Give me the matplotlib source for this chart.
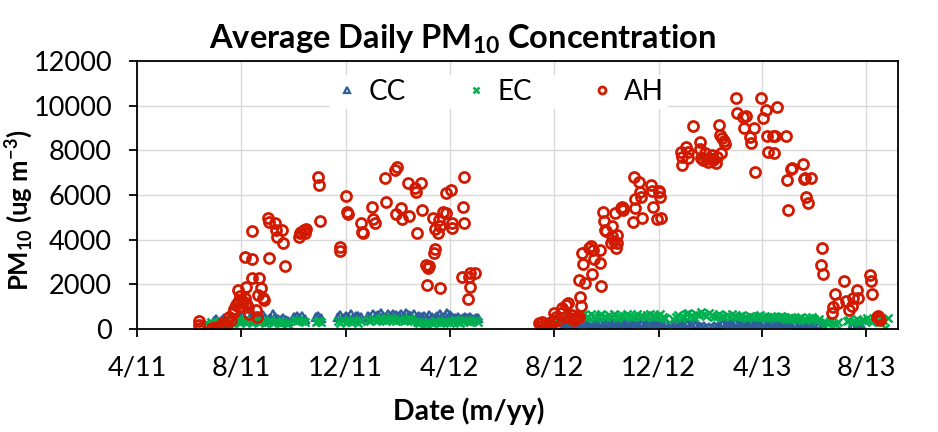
import matplotlib
matplotlib.use("Agg")
import matplotlib.pyplot as plt
import matplotlib.dates as mdates
import pandas as pd

# ---------------------------------------------------------------
# Data
# ---------------------------------------------------------------
SERIES_STEP = "3D"   # CC / EC values are listed every 3 days inside each segment

# CC (blue triangles): (segment start, values)
cc_segments = [
    ("2011-06-30", [350, 450, 300, 400, 500, 380, 420, 550, 450, 400, 480, 600, 420, 380, 500,
                    560, 450, 400, 520, 620, 480, 420, 500, 650, 520, 450, 400, 480, 420, 380]),
    ("2011-10-02", [550, 600, 500, 580, 450]),
    ("2011-10-27", [520, 600, 480]),
    ("2011-11-22", [550, 620, 480, 600, 520, 650, 500, 580, 600, 520]),
    ("2011-12-27", [600, 550, 650, 580, 620, 700, 600, 550, 650, 600, 680, 620, 580, 650, 600,
                    700, 620, 580, 650, 550, 600, 520, 580, 500, 620, 550, 480, 600, 650, 550,
                    600, 700, 620, 550, 480, 520, 450, 500, 550, 480, 520, 450, 500, 480]),
    ("2012-08-08", [200, 300, 250, 350, 280, 220, 320, 260, 300, 350, 250, 280, 320, 240, 300,
                    360, 280, 250, 300, 330, 270, 220, 300, 280, 350, 260, 300, 240, 280, 320,
                    250, 300, 270, 230, 290, 320, 260, 300, 250, 280, 220, 300]),
    ("2012-12-18", [250, 300, 220, 280, 240, 300, 260, 220, 280, 200,
                    120, 80, 150, 60, 100, 50, 120, 80, 150,
                    250, 300, 280, 320, 260, 300, 350, 280, 320, 300, 260, 340, 300, 280, 320,
                    260, 300, 350, 280, 250, 300, 270, 320, 280, 250, 300, 260, 230, 280, 250,
                    200, 260, 220, 180, 240, 200, 150, 220, 180, 120, 100]),
    ("2013-07-15", [150, 200, 120, 180, 100]),
]

# EC (green crosses)
ec_segments = [
    ("2011-06-21", [250, 180, 300, 220, 150, 280, 350, 240, 300, 380, 260, 330, 400, 290, 350,
                    420, 310, 380, 250, 340, 410, 300, 360, 280, 330, 390, 270, 340, 300, 250,
                    320, 280, 230]),
    ("2011-10-02", [400, 350, 420, 380, 330]),
    ("2011-10-27", [300, 380, 320]),
    ("2011-11-22", [350, 280, 400, 320, 380, 300, 420, 350, 290, 380]),
    ("2011-12-27", [420, 380, 450, 350, 400, 480, 420, 380, 450, 500, 420, 380, 440, 400, 350,
                    420, 480, 400, 360, 300, 250, 320, 280, 230, 300, 260, 350, 300, 250, 320,
                    380, 300, 250, 350, 400, 320, 280, 350, 420, 380, 300, 350, 400, 330]),
    ("2012-08-05", [350, 450, 500, 420, 550, 480, 600, 520, 450, 580, 620, 500, 550, 650, 580,
                    500, 600, 680, 550, 520, 620, 560, 650, 500, 580, 620, 550, 680, 600, 520,
                    580, 650, 560, 600, 540, 620, 680, 580, 520, 600, 650, 550, 500]),
    ("2012-12-18", [450, 550, 620, 500, 580, 650, 700, 600, 550, 680, 620, 750, 650, 580, 700,
                    620, 550, 600, 680, 580, 520, 620, 560, 650, 600, 540, 580, 620, 550, 500,
                    600, 560, 520, 580, 620, 540, 500, 560, 600, 520, 480, 550, 600, 520, 460,
                    500, 550, 480, 420, 500, 550, 450, 400, 480, 520, 430, 380, 450]),
    ("2013-06-14", [300, 250, 350, 280, 220, 300]),
    ("2013-07-09", [350, 420, 300, 380, 450, 320, 400, 350, 480, 400, 320, 450, 380, 300, 420,
                    50, 500]),
]

# AH (red open circles)
ah_dates = [
    "2011-06-12", "2011-06-13", "2011-06-14", "2011-06-28", "2011-07-01", "2011-07-03",
    "2011-07-05", "2011-07-08", "2011-07-10", "2011-07-11", "2011-07-12", "2011-07-15",
    "2011-07-18", "2011-07-20", "2011-07-22", "2011-07-24", "2011-07-26", "2011-07-28",
    "2011-07-28", "2011-07-29", "2011-07-31", "2011-08-01", "2011-08-03", "2011-08-05",
    "2011-08-05", "2011-08-06", "2011-08-07", "2011-08-09", "2011-08-10", "2011-08-13",
    "2011-08-13", "2011-08-14", "2011-08-18", "2011-08-19", "2011-08-20", "2011-08-22",
    "2011-08-24", "2011-08-26", "2011-08-28", "2011-09-01", "2011-09-02", "2011-09-03",
    "2011-09-09", "2011-09-11", "2011-09-12", "2011-09-18", "2011-09-19", "2011-09-21",
    "2011-10-07", "2011-10-09", "2011-10-10", "2011-10-13", "2011-10-14", "2011-10-16",
    "2011-10-30", "2011-10-31", "2011-11-01", "2011-11-24", "2011-11-25", "2011-12-01",
    "2011-12-03", "2011-12-04", "2011-12-19", "2011-12-20", "2011-12-21", "2012-01-01",
    "2012-01-02", "2012-01-04", "2012-01-16", "2012-01-17", "2012-01-28", "2012-01-29",
    "2012-01-30", "2012-02-04", "2012-02-05", "2012-02-12", "2012-02-13", "2012-02-20",
    "2012-02-21", "2012-02-22", "2012-02-27", "2012-02-28", "2012-03-04", "2012-03-05",
    "2012-03-06", "2012-03-08", "2012-03-12", "2012-03-13", "2012-03-14", "2012-03-15",
    "2012-03-18", "2012-03-19", "2012-03-20", "2012-03-21", "2012-03-24", "2012-03-27",
    "2012-03-28", "2012-04-02", "2012-04-03", "2012-04-04", "2012-04-15", "2012-04-16",
    "2012-04-17", "2012-04-18", "2012-04-22", "2012-04-23", "2012-04-24", "2012-04-25",
    "2012-04-30",
    "2012-07-14", "2012-07-16", "2012-07-18", "2012-07-20", "2012-07-22", "2012-07-24",
    "2012-07-26", "2012-07-28", "2012-07-30", "2012-08-01", "2012-08-03", "2012-08-06",
    "2012-08-09", "2012-08-10", "2012-08-14", "2012-08-15", "2012-08-17", "2012-08-19",
    "2012-08-22", "2012-08-24", "2012-08-27", "2012-08-29", "2012-08-30", "2012-08-30",
    "2012-08-31", "2012-09-01", "2012-09-03", "2012-09-04", "2012-09-06", "2012-09-11",
    "2012-09-13", "2012-09-14", "2012-09-15", "2012-09-17", "2012-09-23", "2012-09-24",
    "2012-09-25", "2012-09-27", "2012-09-28", "2012-09-29", "2012-09-30", "2012-10-06",
    "2012-10-07", "2012-10-08", "2012-10-10", "2012-10-11", "2012-10-12", "2012-10-13",
    "2012-10-14", "2012-10-18", "2012-10-19", "2012-10-20", "2012-10-21", "2012-11-01",
    "2012-11-02", "2012-11-03", "2012-11-04", "2012-11-08", "2012-11-09", "2012-11-11",
    "2012-11-12", "2012-11-22", "2012-11-23", "2012-11-24", "2012-11-29", "2012-12-01",
    "2012-12-02", "2012-12-03", "2012-12-04", "2012-12-27", "2012-12-28", "2012-12-29",
    "2013-01-02", "2013-01-04", "2013-01-05", "2013-01-10", "2013-01-18", "2013-01-19",
    "2013-01-20", "2013-01-22", "2013-01-24", "2013-01-26", "2013-01-28", "2013-01-29",
    "2013-02-01", "2013-02-02", "2013-02-03", "2013-02-06", "2013-02-07", "2013-02-10",
    "2013-02-11", "2013-02-12", "2013-02-13", "2013-02-16", "2013-02-17", "2013-03-02",
    "2013-03-03", "2013-03-10", "2013-03-11", "2013-03-13", "2013-03-18", "2013-03-19",
    "2013-03-23", "2013-03-24", "2013-03-31", "2013-04-02", "2013-04-06", "2013-04-07",
    "2013-04-08", "2013-04-14", "2013-04-15", "2013-04-16", "2013-04-19", "2013-04-29",
    "2013-04-30", "2013-05-01", "2013-05-05", "2013-05-06", "2013-05-19", "2013-05-20",
    "2013-05-21", "2013-05-23", "2013-05-25", "2013-05-28", "2013-06-09", "2013-06-10",
    "2013-06-11", "2013-06-22", "2013-06-23", "2013-06-25", "2013-06-29", "2013-07-06",
    "2013-07-08", "2013-07-12", "2013-07-15", "2013-07-17", "2013-07-21", "2013-07-22",
    "2013-08-05", "2013-08-07", "2013-08-08", "2013-08-14", "2013-08-15", "2013-08-16",
    "2013-08-17",
]
ah_vals = [
    350, 200, 60, 60, 20, 90,
    30, 120, 50, 260, 150, 200,
    550, 400, 700, 900, 1080, 1220,
    1750, 1000, 1500, 1300, 1200, 1375,
    3240, 1900, 1150, 1000, 650, 2270,
    3120, 4400, 850, 550, 1520, 2270,
    1820, 1375, 1300, 4955, 4805, 3165,
    4760, 4430, 4105, 4430, 3865, 2820,
    4105, 4285, 4350, 4430, 4300, 4465,
    6820, 6450, 4850, 3690, 3510, 5970,
    5250, 5150, 4760, 4360, 4290, 5450,
    4930, 4760, 6780, 5700, 7120, 5130,
    7240, 5430, 4930, 6520, 5070, 6300,
    6150, 4290, 6520, 5330, 2865, 1970,
    2745, 2820, 4955, 3420, 4460, 3570,
    4285, 4880, 4610, 1850, 5250, 5180,
    6075, 6225, 4760, 4510, 2315, 5450,
    6790, 4730, 1330, 2315, 1895, 2520,
    2520,
    250, 150, 300, 100, 200, 120,
    280, 180, 350, 700, 550, 400,
    700, 925, 550, 1075, 1150, 480,
    630, 400, 480, 600, 2190, 520,
    1450, 1030, 3390, 2900, 2070, 3610,
    3717, 2450, 3540, 3120, 3540, 2970,
    1940, 5250, 4840, 4430, 4390, 3840,
    4610, 4165, 3955, 5180, 3610, 4210,
    3840, 5400, 5450, 5350, 5420, 4800,
    6820, 5430, 5820, 6570, 6150, 5900,
    4955, 6450, 6195, 5480, 4910, 6195,
    6150, 5925, 4960, 7940, 7715, 7340,
    8165, 7940, 7670, 9100, 8390, 8060,
    7640, 7550, 7865, 7610, 7500, 7640,
    7600, 7790, 7570, 7420, 7715, 9135,
    8690, 7865, 8570, 8420, 8270, 10330,
    9660, 9510, 8990, 9550, 8610, 8315,
    8990, 7015, 10330, 9435, 9810, 8660,
    7940, 8660, 7865, 8660, 9925, 8660,
    6670, 5330, 7165, 7200, 7375, 6715,
    6750, 5920, 5630, 6775, 2865, 3640,
    2450, 730, 970, 1570, 1180, 2165,
    1270, 850, 1030, 1375, 1745, 1375,
    2420, 2165, 1570, 550, 600, 480,
    420,
]

y_ticks = [0, 2000, 4000, 6000, 8000, 10000, 12000]
x_range = ("2011-04-01", "2013-09-07")

COLORS = {"CC": "#2E5E9A", "EC": "#00B050", "AH": "#D21A00"}

# ---------------------------------------------------------------
# Style
# ---------------------------------------------------------------
plt.rcParams.update({
    "font.family": ["Lato", "DejaVu Sans"],
    "mathtext.fontset": "custom",
    "mathtext.rm": "Lato",
    "mathtext.bf": "Lato:bold",
    "mathtext.default": "regular",
})


def expand(segments):
    dates, vals = [], []
    for start, values in segments:
        dates.extend(pd.date_range(start, periods=len(values), freq=SERIES_STEP))
        vals.extend(values)
    return dates, vals


cc_d, cc_v = expand(cc_segments)
ec_d, ec_v = expand(ec_segments)
ah_d = pd.to_datetime(ah_dates)

fig = plt.figure(figsize=(9.38, 4.32), dpi=100)
ax = fig.add_axes([0.146, 0.2384, 0.8113, 0.6204])

ax.plot(cc_d, cc_v, linestyle="none", marker="^", markersize=5.5,
        markerfacecolor="none", markeredgecolor=COLORS["CC"], markeredgewidth=1.6, label="CC")
ax.plot(ec_d, ec_v, linestyle="none", marker="x", markersize=5.5,
        color=COLORS["EC"], markeredgewidth=1.8, label="EC")
ax.plot(ah_d, ah_vals, linestyle="none", marker="o", markersize=7.2,
        markerfacecolor="none", markeredgecolor=COLORS["AH"], markeredgewidth=2.0, label="AH")

ax.set_xlim(pd.Timestamp(x_range[0]), pd.Timestamp(x_range[1]))
ax.set_ylim(y_ticks[0], y_ticks[-1])
ax.set_yticks(y_ticks)

ax.xaxis.set_major_locator(mdates.MonthLocator(bymonth=[4, 8, 12]))
ax.xaxis.set_major_formatter(
    plt.FuncFormatter(lambda x, pos: "%d/%s" % (mdates.num2date(x).month,
                                                mdates.num2date(x).strftime("%y"))))

ax.grid(True, color="#D9D9D9", linewidth=1.0)
ax.set_axisbelow(True)
for s in ax.spines.values():
    s.set_color("black")
    s.set_linewidth(1.3)
ax.tick_params(axis="both", direction="out", length=6, width=1.3,
               labelsize=19.5, colors="black")
ax.tick_params(axis="y", pad=12)
ax.tick_params(axis="x", pad=13)

ax.set_title("Average Daily PM$_{\\mathbf{10}}$ Concentration", fontsize=23.5,
             fontweight="bold", x=0.428, pad=9)
ax.set_xlabel("Date (m/yy)", fontsize=20.5, fontweight="bold")
ax.xaxis.set_label_coords(0.436, -0.255)
ax.set_ylabel("PM$_{\\mathbf{10}}$ (ug m$^{\\mathbf{-3}}$)", fontsize=18.5, fontweight="bold")
ax.yaxis.set_label_coords(-0.134, 0.444)

leg = ax.legend(loc="upper center", bbox_to_anchor=(0.475, 1.0), ncol=3, fontsize=20,
                frameon=True, framealpha=1.0, edgecolor="none", facecolor="white",
                handletextpad=0.3, columnspacing=2.0, markerscale=0.7,
                borderpad=0.15, handlelength=1.0)
leg.get_frame().set_linewidth(0)

fig.savefig("out.png", dpi=100)
